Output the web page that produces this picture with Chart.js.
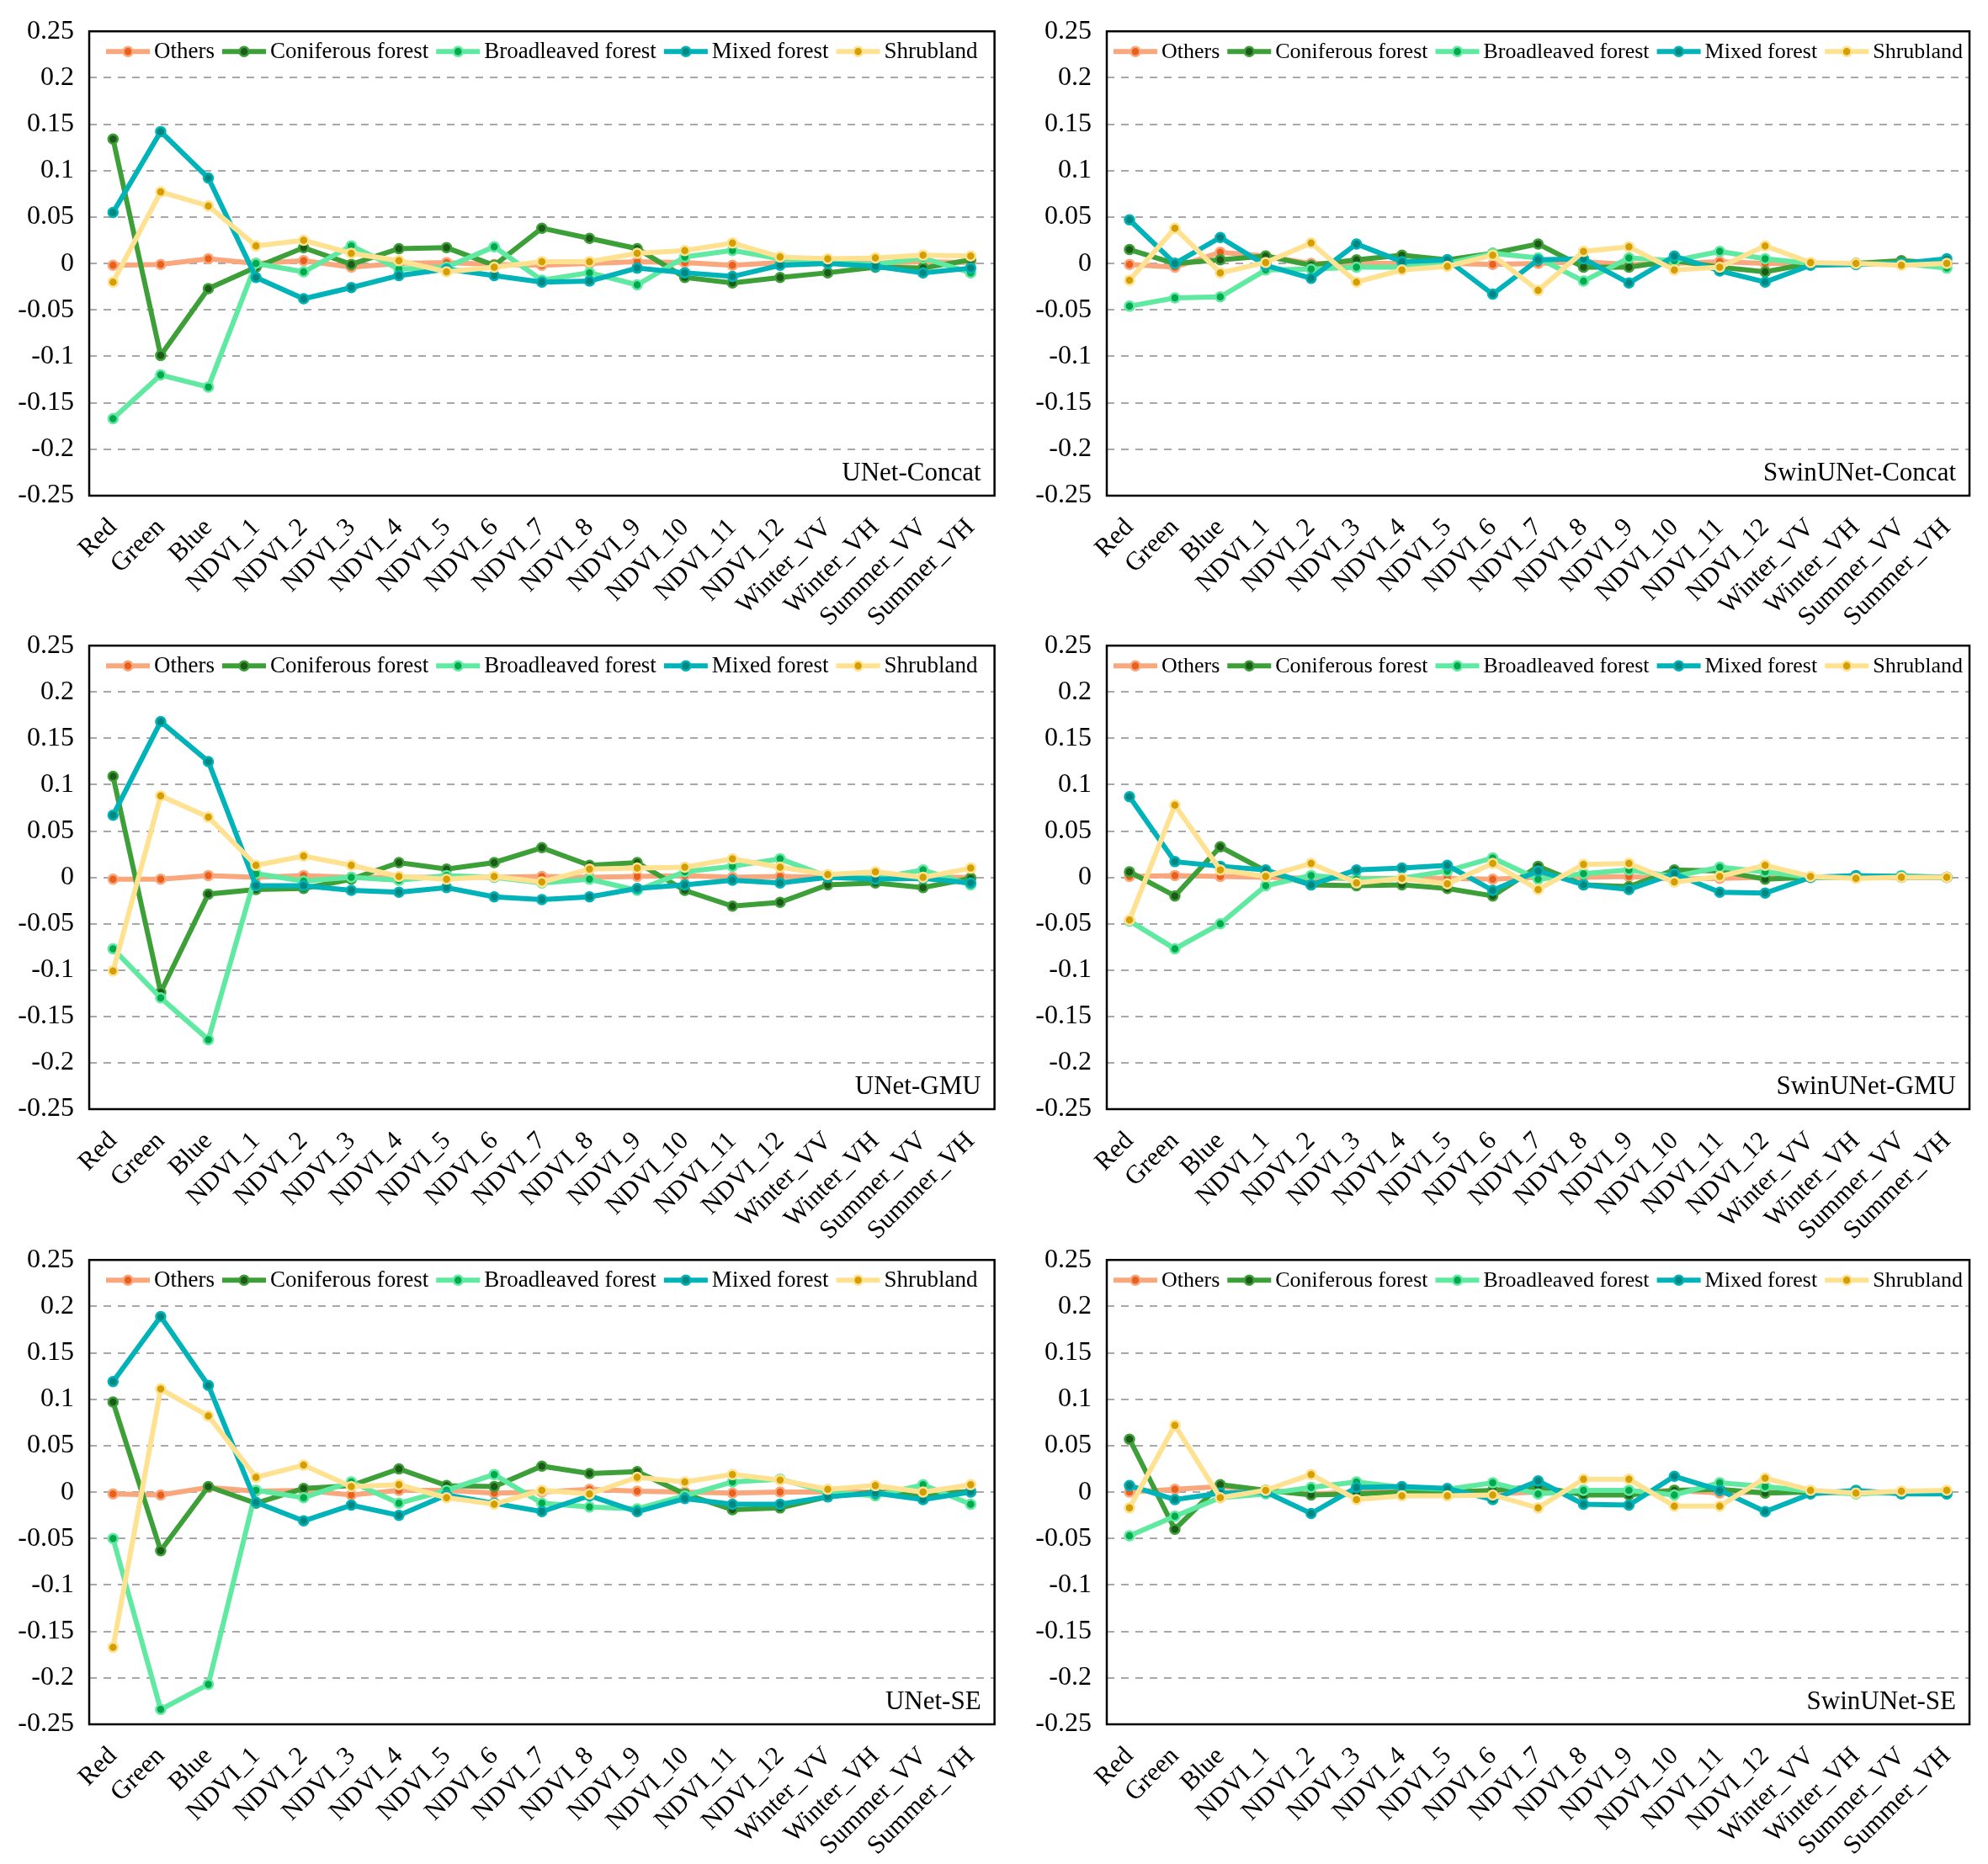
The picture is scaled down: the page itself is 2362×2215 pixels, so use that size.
<!DOCTYPE html>
<html>
<head>
<meta charset="utf-8">
<script src="https://cdn.jsdelivr.net/npm/chart.js@4.4.0/dist/chart.umd.min.js"></script>
<style>
  html, body { margin: 0; padding: 0; background: #fff; }
  #page { position: relative; width: 2362px; height: 2215px; overflow: hidden; }
  #page canvas { position: absolute; }
</style>
</head>
<body>
<div id="page"></div>
<script>
const categories = ['Red', 'Green', 'Blue', 'NDVI_1', 'NDVI_2', 'NDVI_3', 'NDVI_4', 'NDVI_5', 'NDVI_6',
  'NDVI_7', 'NDVI_8', 'NDVI_9', 'NDVI_10', 'NDVI_11', 'NDVI_12', 'Winter_VV', 'Winter_VH', 'Summer_VV', 'Summer_VH'];
const seriesNames = ['Others', 'Coniferous forest', 'Broadleaved forest', 'Mixed forest', 'Shrubland'];
const yMin = -0.25, yMax = 0.25, yStep = 0.05;

// UNet-Concat
const unetConcatOthers = [-0.002, -0.001, 0.005, 0, 0.003, -0.004, 0, 0.001, -0.001, -0.002, 0, 0.002, 0.001, -0.002, 0.001, 0.002, 0, 0.002, 0.001];
const unetConcatConif  = [0.134, -0.099, -0.027, -0.004, 0.017, -0.001, 0.016, 0.017, -0.002, 0.038, 0.027, 0.016, -0.015, -0.021, -0.015, -0.010, -0.004, -0.005, 0.004];
const unetConcatBroad  = [-0.167, -0.120, -0.133, 0, -0.009, 0.019, -0.006, -0.004, 0.018, -0.018, -0.010, -0.023, 0.007, 0.014, 0.005, 0.001, -0.001, 0.006, -0.010];
const unetConcatMixed  = [0.055, 0.142, 0.092, -0.015, -0.038, -0.026, -0.013, -0.006, -0.013, -0.020, -0.019, -0.005, -0.010, -0.014, -0.002, 0, -0.003, -0.010, -0.005];
const unetConcatShrub  = [-0.020, 0.077, 0.062, 0.019, 0.025, 0.011, 0.003, -0.009, -0.004, 0.002, 0.002, 0.011, 0.014, 0.022, 0.007, 0.005, 0.006, 0.009, 0.008];

// SwinUNet-Concat
const swinConcatOthers = [-0.001, -0.004, 0.012, 0.008, 0, 0, 0, 0, -0.001, 0, 0.002, -0.001, 0, 0.002, 0, 0, 0, 0, 0];
const swinConcatConif  = [0.015, 0, 0.004, 0.008, -0.002, 0.004, 0.009, 0.004, 0.011, 0.021, -0.004, -0.004, 0.003, -0.004, -0.009, 0, 0, 0.003, 0];
const swinConcatBroad  = [-0.046, -0.037, -0.036, -0.007, -0.006, -0.004, -0.004, 0, 0.011, 0.006, -0.019, 0.006, 0.003, 0.013, 0.005, 0, -0.001, 0, -0.005];
const swinConcatMixed  = [0.047, 0, 0.028, -0.002, -0.016, 0.021, 0.002, 0.004, -0.033, 0.004, 0.005, -0.021, 0.008, -0.008, -0.020, -0.002, -0.001, 0, 0.005];
const swinConcatShrub  = [-0.018, 0.038, -0.010, 0.001, 0.022, -0.020, -0.007, -0.003, 0.009, -0.029, 0.013, 0.018, -0.007, -0.004, 0.019, 0.001, 0, -0.002, 0];

// UNet-GMU
const unetGmuOthers = [-0.002, -0.002, 0.002, 0, 0.002, 0, 0, 0, 0, 0.001, 0, 0.001, 0.002, 0, 0.001, 0, 0, 0, 0];
const unetGmuConif  = [0.109, -0.124, -0.018, -0.013, -0.012, -0.002, 0.016, 0.009, 0.016, 0.032, 0.013, 0.016, -0.014, -0.031, -0.027, -0.008, -0.006, -0.011, -0.001];
const unetGmuBroad  = [-0.077, -0.130, -0.175, 0.004, -0.004, 0, -0.003, 0.002, 0, -0.006, -0.002, -0.014, 0.006, 0.012, 0.020, 0.001, -0.001, 0.008, -0.008];
const unetGmuMixed  = [0.067, 0.168, 0.125, -0.009, -0.009, -0.014, -0.016, -0.011, -0.021, -0.024, -0.021, -0.012, -0.008, -0.003, -0.006, 0, -0.002, -0.001, -0.006];
const unetGmuShrub  = [-0.101, 0.088, 0.065, 0.013, 0.023, 0.013, 0.001, -0.002, 0.001, -0.005, 0.009, 0.010, 0.011, 0.020, 0.011, 0.003, 0.006, 0, 0.010];

// SwinUNet-GMU
const swinGmuOthers = [0.001, 0.002, 0.001, 0, -0.001, -0.001, -0.001, -0.001, -0.002, 0, 0, 0.001, -0.002, -0.001, 0, 0, 0, 0, 0];
const swinGmuConif  = [0.006, -0.020, 0.033, 0.007, -0.008, -0.009, -0.008, -0.012, -0.020, 0.012, -0.008, -0.010, 0.008, 0.007, -0.002, 0, 0, 0, 0];
const swinGmuBroad  = [-0.047, -0.077, -0.050, -0.009, 0.002, -0.002, -0.001, 0.007, 0.021, -0.002, 0.004, 0.008, 0.001, 0.011, 0.006, 0, 0, 0.002, 0];
const swinGmuMixed  = [0.087, 0.017, 0.012, 0.008, -0.008, 0.008, 0.010, 0.013, -0.014, 0.007, -0.008, -0.013, 0.004, -0.016, -0.017, 0, 0.002, 0.001, 0];
const swinGmuShrub  = [-0.046, 0.078, 0.008, 0.001, 0.015, -0.006, -0.001, -0.007, 0.015, -0.013, 0.014, 0.015, -0.005, 0.001, 0.013, 0.001, -0.001, 0, 0];

// UNet-SE
const unetSeOthers = [-0.002, -0.003, 0.005, 0.001, 0.002, -0.003, 0.002, 0.002, -0.001, 0, 0.003, 0.001, 0, -0.001, 0, 0, 0, 0.001, 0];
const unetSeConif  = [0.097, -0.063, 0.006, -0.012, 0.004, 0.007, 0.025, 0.007, 0.006, 0.028, 0.020, 0.022, -0.002, -0.019, -0.017, -0.005, 0, -0.004, 0.001];
const unetSeBroad  = [-0.050, -0.234, -0.207, 0.002, -0.006, 0.011, -0.012, 0.002, 0.019, -0.012, -0.016, -0.018, -0.004, 0.011, 0.014, 0, -0.004, 0.008, -0.013];
const unetSeMixed  = [0.119, 0.189, 0.115, -0.011, -0.031, -0.014, -0.025, -0.003, -0.012, -0.021, -0.004, -0.021, -0.007, -0.013, -0.013, -0.005, -0.001, -0.008, 0];
const unetSeShrub  = [-0.167, 0.111, 0.082, 0.016, 0.029, 0.006, 0.008, -0.006, -0.013, 0.002, -0.002, 0.016, 0.011, 0.019, 0.013, 0.003, 0.007, 0, 0.008];

// SwinUNet-SE
const swinSeOthers = [0, 0.003, 0.006, 0.002, -0.002, 0, 0, 0, -0.002, 0, 0, 0, 0.002, -0.001, 0, 0, 0, 0, 0];
const swinSeConif  = [0.057, -0.040, 0.008, 0.002, -0.003, -0.002, 0, 0, 0.002, 0.006, -0.003, -0.003, 0.002, 0.003, -0.001, 0, -0.001, 0, -0.001];
const swinSeBroad  = [-0.047, -0.026, -0.006, -0.002, 0.005, 0.011, 0.005, 0.003, 0.010, -0.002, 0.002, 0.002, -0.003, 0.010, 0.006, 0.001, -0.002, 0, -0.002];
const swinSeMixed  = [0.007, -0.008, -0.001, 0, -0.023, 0.005, 0.006, 0.004, -0.008, 0.012, -0.013, -0.014, 0.017, 0.002, -0.021, -0.002, 0.002, -0.002, -0.002];
const swinSeShrub  = [-0.017, 0.072, -0.006, 0.002, 0.019, -0.008, -0.004, -0.004, -0.003, -0.017, 0.014, 0.014, -0.015, -0.015, 0.015, 0.002, -0.001, 0.001, 0.002];

const lineColors   = ['#f9a87e', '#3d9f37', '#5fe9a1', '#00b3b9', '#ffe291'];
const markerColors = ['#e8601c', '#1c5a1a', '#00a94c', '#00877f', '#d49e00'];
const FONT = '"Liberation Serif", "Times New Roman", serif';

// panel grid: columns and rows of the page
const COLS = [
  { left: 0, width: 1200, axisW: 106, padRight: 15 },
  { left: 1200, width: 1162, axisW: 115, padRight: 22 },
];
// canvases (and the x axis box, which clips its labels) run EXTRA px past their row
const EXTRA = 70;
const ROWS = [
  { top: 0, height: 730, padTop: 36, xH: 141 },
  { top: 730, height: 730, padTop: 35, xH: 142 },
  { top: 1460, height: 755, padTop: 35, xH: 166 },
];

const panels = [
  { title: 'UNet-Concat', col: 0, row: 0, series: [unetConcatOthers, unetConcatConif, unetConcatBroad, unetConcatMixed, unetConcatShrub] },
  { title: 'SwinUNet-Concat', col: 1, row: 0, series: [swinConcatOthers, swinConcatConif, swinConcatBroad, swinConcatMixed, swinConcatShrub] },
  { title: 'UNet-GMU', col: 0, row: 1, series: [unetGmuOthers, unetGmuConif, unetGmuBroad, unetGmuMixed, unetGmuShrub] },
  { title: 'SwinUNet-GMU', col: 1, row: 1, series: [swinGmuOthers, swinGmuConif, swinGmuBroad, swinGmuMixed, swinGmuShrub] },
  { title: 'UNet-SE', col: 0, row: 2, series: [unetSeOthers, unetSeConif, unetSeBroad, unetSeMixed, unetSeShrub] },
  { title: 'SwinUNet-SE', col: 1, row: 2, series: [swinSeOthers, swinSeConif, swinSeBroad, swinSeMixed, swinSeShrub] },
];

// frame, in-plot legend and panel name
const panelDecor = {
  id: 'panelDecor',
  afterDraw(chart, args, opts) {
    const ctx = chart.ctx;
    const a = chart.chartArea;
    ctx.save();

    ctx.strokeStyle = '#000';
    ctx.lineWidth = 2.5;
    ctx.strokeRect(a.left, a.top, a.right - a.left, a.bottom - a.top);

    ctx.font = `${opts.legendSize}px ${FONT}`;
    const seg = 52, gapText = 5, gapItem = 9;
    const items = chart.data.datasets.map(ds => ({
      ds, w: seg + gapText + ctx.measureText(ds.label).width + gapItem,
    }));
    const total = items.reduce((s, it) => s + it.w, 0) - gapItem;
    let x = (a.left + a.right) / 2 - total / 2;
    const y = a.top + 24;
    ctx.textBaseline = 'middle';
    ctx.textAlign = 'left';
    items.forEach(({ ds, w }) => {
      ctx.strokeStyle = ds.borderColor;
      ctx.lineWidth = 6;
      ctx.beginPath();
      ctx.moveTo(x, y);
      ctx.lineTo(x + seg, y);
      ctx.stroke();
      ctx.beginPath();
      ctx.arc(x + seg / 2, y, 5.5, 0, Math.PI * 2);
      ctx.fillStyle = ds.pointBackgroundColor;
      ctx.fill();
      ctx.lineWidth = 2.5;
      ctx.stroke();
      ctx.fillStyle = '#000';
      ctx.fillText(ds.label, x + seg + gapText, y + 1);
      x += w;
    });

    ctx.font = `${opts.titleSize}px ${FONT}`;
    ctx.textAlign = 'right';
    ctx.textBaseline = 'alphabetic';
    ctx.fillText(opts.title, a.right - 16, a.bottom - 18);
    ctx.restore();
  },
};

function renderPanel(panel) {
  const col = COLS[panel.col];
  const row = ROWS[panel.row];
  const h = row.height + EXTRA;
  const canvas = document.createElement('canvas');
  canvas.width = col.width;
  canvas.height = h;
  canvas.style.left = col.left + 'px';
  canvas.style.top = row.top + 'px';
  canvas.style.width = col.width + 'px';
  canvas.style.height = h + 'px';
  document.getElementById('page').appendChild(canvas);

  const datasets = panel.series.map((values, i) => ({
    label: seriesNames[i],
    data: values,
    borderColor: lineColors[i],
    backgroundColor: lineColors[i],
    borderWidth: 6,
    pointRadius: 5.5,
    pointBorderWidth: 2.5,
    pointBackgroundColor: markerColors[i],
    pointBorderColor: lineColors[i],
    tension: 0,
    order: seriesNames.length - i,
  }));

  new Chart(canvas.getContext('2d'), {
    type: 'line',
    data: { labels: categories, datasets },
    plugins: [panelDecor],
    options: {
      responsive: false,
      animation: false,
      devicePixelRatio: 1,
      layout: { padding: { top: row.padTop, right: col.padRight, left: 0, bottom: 0 } },
      plugins: {
        legend: { display: false },
        tooltip: { enabled: false },
        panelDecor: { title: panel.title, legendSize: panel.col === 0 ? 27 : 26, titleSize: 31 },
      },
      scales: {
        x: {
          offset: true,
          afterFit: s => { s.height = row.xH + EXTRA; },
          grid: { display: false, drawTicks: false },
          border: { display: false },
          ticks: {
            autoSkip: false, minRotation: 45, maxRotation: 45, padding: 20,
            color: '#000', font: { family: FONT, size: 31 },
          },
        },
        y: {
          min: yMin, max: yMax,
          afterFit: s => { s.width = col.axisW; },
          grid: {
            drawTicks: false,
            lineWidth: 2,
            color: c => Math.abs(Math.abs(c.tick.value) - 0.25) < 1e-6 ? 'rgba(0,0,0,0)' : '#a8a8a8',
          },
          border: { display: false, dash: [9, 8] },
          ticks: {
            stepSize: yStep, padding: 18, color: '#000',
            font: { family: FONT, size: 32 },
            callback: v => String(parseFloat(v.toFixed(2))),
          },
        },
      },
    },
  });
}

panels.forEach(renderPanel);
</script>
</body>
</html>
